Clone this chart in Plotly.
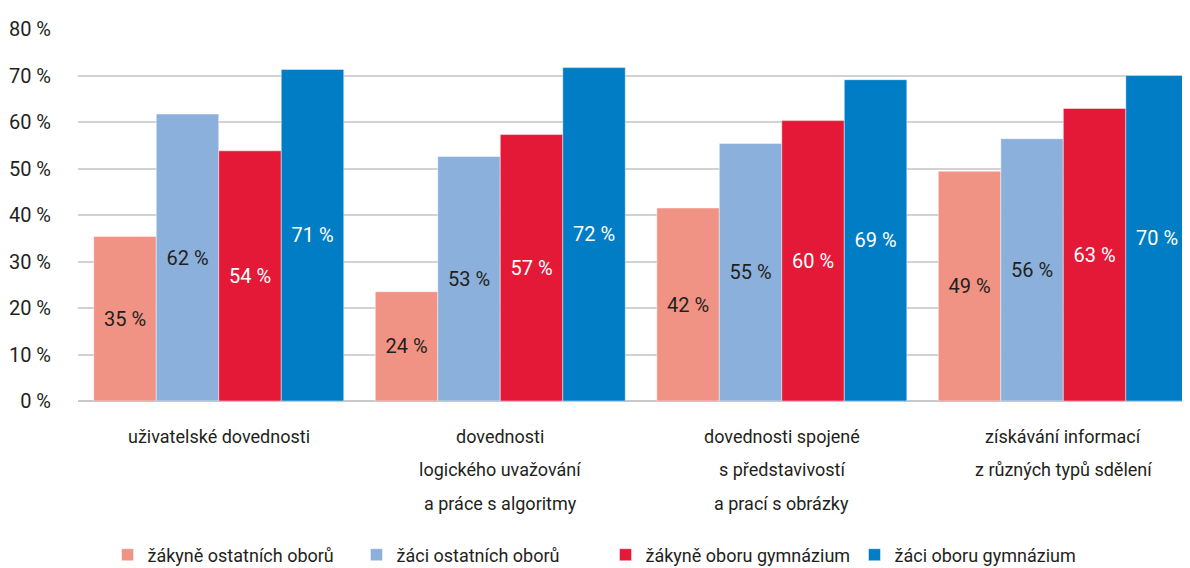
import plotly.graph_objects as go

categories = ["uživatelské dovednosti",
              "dovednosti logického uvažování a práce s algoritmy",
              "dovednosti spojené s představivostí a prací s obrázky",
              "získávání informací z různých typů sdělení"]
category_lines = [["uživatelské dovednosti"],
                  ["dovednosti", "logického uvažování", "a práce s algoritmy"],
                  ["dovednosti spojené", "s představivostí", "a prací s obrázky"],
                  ["získávání informací", "z různých typů sdělení"]]

series_names = ["žákyně ostatních oborů", "žáci ostatních oborů",
                "žákyně oboru gymnázium", "žáci oboru gymnázium"]
zakyne_ostatni = [35.4, 23.5, 41.5, 49.4]
zaci_ostatni = [61.7, 52.6, 55.4, 56.4]
zakyne_gymn = [53.8, 57.3, 60.3, 62.9]
zaci_gymn = [71.3, 71.7, 69.1, 70.0]
series_values = [zakyne_ostatni, zaci_ostatni, zakyne_gymn, zaci_gymn]

colors = ["#F19384", "#8CB0DC", "#E31937", "#007DC5"]
text_colors = ["#231F20", "#231F20", "#FFFFFF", "#FFFFFF"]

y_ticks = [0, 10, 20, 30, 40, 50, 60, 70, 80]
y_tick_labels = [f"{v} %" for v in y_ticks]

FONT = "Roboto, Lato, Liberation Sans, sans-serif"
FS = 18      # words
FSN = 20     # numbers
DARK = "#231F20"

# the page body has an 8 px margin, so the figure is sized to fit the window
W, H = 1182, 560

fig = go.Figure()
for name, vals, col, tcol in zip(series_names, series_values, colors, text_colors):
    fig.add_trace(go.Bar(
        name=name, x=categories, y=vals,
        marker=dict(color=col, line=dict(width=1, color="rgba(255,255,255,0.45)")),
        texttemplate="%{y:.0f} %", textposition="inside",
        insidetextanchor="middle", textangle=0,
        textfont=dict(family=FONT, size=FSN, color=tcol),
        hoverinfo="skip",
    ))

# category labels, one annotation per line to reproduce the wide line spacing
for cat, lines in zip(categories, category_lines):
    for i, line in enumerate(lines):
        fig.add_annotation(x=cat, xref="x", y=0, yref="paper",
                           text=line, showarrow=False, yanchor="middle",
                           yshift=-(35 + 33.5 * i),
                           font=dict(family=FONT, size=FS, color=DARK))

fig.update_layout(
    width=W, height=H,
    margin=dict(l=70, r=0, t=21, b=167, autoexpand=False),
    paper_bgcolor="white", plot_bgcolor="white",
    barmode="group", bargap=0.112, bargroupgap=0,
    font=dict(family=FONT, size=FS, color=DARK),
    showlegend=True,
    legend=dict(orientation="h", xref="container", yref="container",
                x=99.5 / W, xanchor="left", y=13 / H, yanchor="middle",
                font=dict(family=FONT, size=FS, color=DARK),
                traceorder="normal", itemwidth=30, entrywidth=204),
    uniformtext=dict(mode=False),
)
fig.update_xaxes(range=[-0.5, 3.45], showticklabels=False, showgrid=False,
                 showline=False, zeroline=False, ticks="")
fig.update_yaxes(range=[0, 80], tickvals=y_ticks, ticktext=y_tick_labels,
                 showgrid=True, gridcolor="#D2D2D2", gridwidth=2,
                 zeroline=True, zerolinecolor="#C8C8C8", zerolinewidth=2,
                 showline=False, ticks="", ticklabelstandoff=26,
                 tickfont=dict(family=FONT, size=FSN, color=DARK))

fig.write_html("out.html")
